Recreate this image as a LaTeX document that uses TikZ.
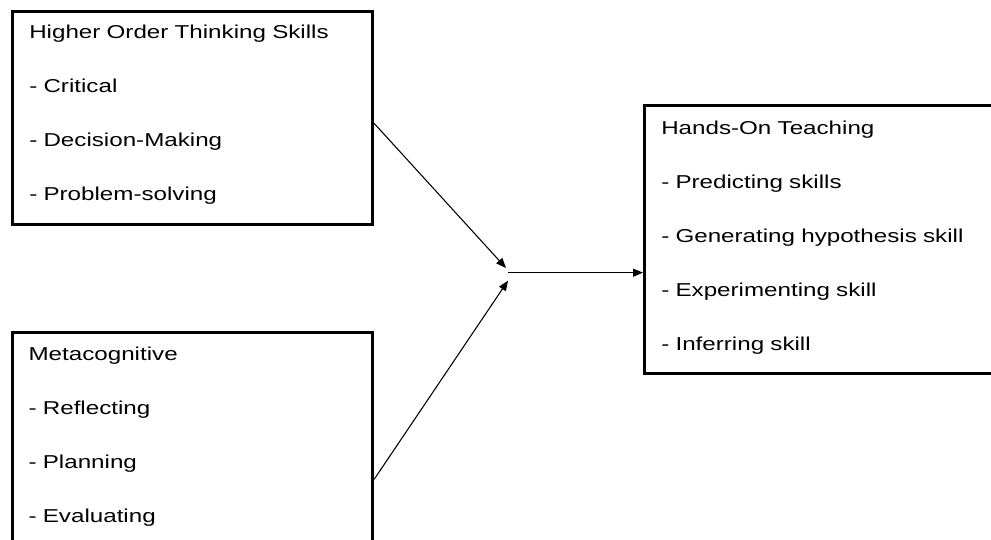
\documentclass[tikz,border=0pt]{standalone}
\usepackage{fontspec}
\setmainfont{Liberation Sans}[FakeStretch=1.295]
\usetikzlibrary{arrows.meta,positioning}

\tikzset{
    box/.style={draw=black, line width=2.4pt, rectangle, inner sep=0pt},
    boxtext/.style={anchor=base west, inner sep=0pt, align=left, text width=250pt,
        font=\fontsize{14pt}{40.5pt}\selectfont},
    arr/.style={-{Triangle[length=7.5pt,width=6pt]}, line width=0.8pt}
}

\begin{document}
\begin{tikzpicture}[x=1pt,y=-1pt]
            \clip (0,0) rectangle (743.25,404.25);

            \node[box, anchor=north west, minimum width=270pt, minimum height=159.75pt] (hots) at (8.25,7.5) {};
            \node[box, anchor=north west, minimum width=270pt, minimum height=162pt] (meta) at (8.25,248.25) {};
            \node[box, anchor=north west, minimum width=265pt, minimum height=201pt] (hands) at (482.25,78) {};

            \node[boxtext] (hotstext) at ([xshift=13.5pt,yshift=-21pt]hots.north west)
                {Higher Order Thinking Skills\\- Critical\\- Decision-Making\\- Problem-solving};
            \node[boxtext] (metatext) at ([xshift=13pt,yshift=-21.75pt]meta.north west)
                {Metacognitive\\- Reflecting\\- Planning\\- Evaluating};
            \node[boxtext] (handstext) at ([xshift=13.5pt,yshift=-22.5pt]hands.north west)
                {Hands-On Teaching\\- Predicting skills\\- Generating hypothesis skill\\- Experimenting skill\\- Inferring skill};

            \coordinate (tipA) at (379.5,201);
            \coordinate (tipB) at (381,210.5);
            \coordinate (mid) at (381,204.5);

            \draw[arr] ([yshift=-4pt]hots.east) -- (tipA);
            \draw[arr] ([yshift=-29pt]meta.east) -- (tipB);
            \draw[arr] (mid) -- (mid -| hands.west);
        \end{tikzpicture}
\end{document}
